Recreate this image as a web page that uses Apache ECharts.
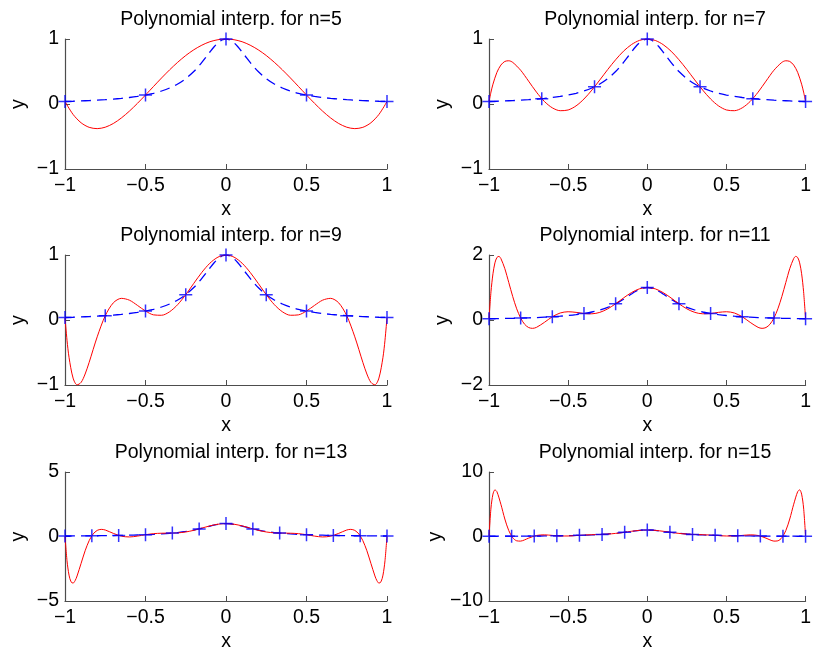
<!DOCTYPE html>
<html>
<head>
<meta charset="utf-8">
<script src="https://cdn.jsdelivr.net/npm/echarts@6/dist/echarts.min.js"></script>
<style>
  html, body { margin: 0; padding: 0; background: #fff; }
  #main { width: 814px; height: 653px; }
</style>
</head>
<body>
<div id="main"></div>
<script>
// 数据：每个子图的标题、y 轴范围、插值节点、插值多项式曲线
var titles = ['Polynomial interp. for n=5', 'Polynomial interp. for n=7', 'Polynomial interp. for n=9',
  'Polynomial interp. for n=11', 'Polynomial interp. for n=13', 'Polynomial interp. for n=15'];
var yLimits = [1, 1, 1, 2, 5, 10];
var xTicks = [-1, -0.5, 0, 0.5, 1];

// 1/(1+25x^2) （蓝色虚线）
var runge = [
  [-1, 0.0385], [-0.95, 0.0424], [-0.9, 0.0471], [-0.85, 0.0525], [-0.8, 0.0588], [-0.75, 0.0664],
  [-0.7, 0.0755], [-0.65, 0.0865], [-0.6, 0.1], [-0.55, 0.1168], [-0.5, 0.1379], [-0.45, 0.1649],
  [-0.4, 0.2], [-0.35, 0.2462], [-0.3, 0.3077], [-0.25, 0.3902], [-0.2, 0.5], [-0.175, 0.5664],
  [-0.15, 0.64], [-0.125, 0.7191], [-0.1, 0.8], [-0.075, 0.8767], [-0.05, 0.9412], [-0.025, 0.9846],
  [0, 1],
  [0.025, 0.9846], [0.05, 0.9412], [0.075, 0.8767], [0.1, 0.8], [0.125, 0.7191], [0.15, 0.64],
  [0.175, 0.5664], [0.2, 0.5], [0.25, 0.3902], [0.3, 0.3077], [0.35, 0.2462], [0.4, 0.2],
  [0.45, 0.1649], [0.5, 0.1379], [0.55, 0.1168], [0.6, 0.1], [0.65, 0.0865], [0.7, 0.0755],
  [0.75, 0.0664], [0.8, 0.0588], [0.85, 0.0525], [0.9, 0.0471], [0.95, 0.0424], [1, 0.0385]
];

// 节点
var nodes5 = [[-1, 0.0385], [-0.5, 0.1379], [0, 1], [0.5, 0.1379], [1, 0.0385]];
var nodes7 = [[-1, 0.0385], [-0.6667, 0.0826], [-0.3333, 0.2647], [0, 1], [0.3333, 0.2647], [0.6667, 0.0826], [1, 0.0385]];
var nodes9 = [[-1, 0.0385], [-0.75, 0.0664], [-0.5, 0.1379], [-0.25, 0.3902], [0, 1],
  [0.25, 0.3902], [0.5, 0.1379], [0.75, 0.0664], [1, 0.0385]];
var nodes11 = [[-1, 0.0385], [-0.8, 0.0588], [-0.6, 0.1], [-0.4, 0.2], [-0.2, 0.5], [0, 1],
  [0.2, 0.5], [0.4, 0.2], [0.6, 0.1], [0.8, 0.0588], [1, 0.0385]];
var nodes13 = [[-1, 0.0385], [-0.8333, 0.0545], [-0.6667, 0.0826], [-0.5, 0.1379], [-0.3333, 0.2647], [-0.1667, 0.5902], [0, 1],
  [0.1667, 0.5902], [0.3333, 0.2647], [0.5, 0.1379], [0.6667, 0.0826], [0.8333, 0.0545], [1, 0.0385]];
var nodes15 = [[-1, 0.0385], [-0.8571, 0.0516], [-0.7143, 0.0727], [-0.5714, 0.1091], [-0.4286, 0.1788], [-0.2857, 0.3289], [-0.1429, 0.6622], [0, 1],
  [0.1429, 0.6622], [0.2857, 0.3289], [0.4286, 0.1788], [0.5714, 0.1091], [0.7143, 0.0727], [0.8571, 0.0516], [1, 0.0385]];

// 插值多项式（红色实线）
var red5 = [
  [-1, 0.038], [-0.95, -0.160], [-0.9, -0.289], [-0.85, -0.359], [-0.8, -0.379], [-0.75, -0.357], [-0.7, -0.300],
  [-0.65, -0.215], [-0.6, -0.110], [-0.55, 0.010], [-0.5, 0.138], [-0.45, 0.270], [-0.4, 0.401], [-0.35, 0.526],
  [-0.3, 0.642], [-0.25, 0.746], [-0.2, 0.834], [-0.15, 0.905], [-0.1, 0.958], [-0.05, 0.989], [0, 1],
  [0.05, 0.989], [0.1, 0.958], [0.15, 0.905], [0.2, 0.834], [0.25, 0.746], [0.3, 0.642], [0.35, 0.526],
  [0.4, 0.401], [0.45, 0.270], [0.5, 0.138], [0.55, 0.010], [0.6, -0.110], [0.65, -0.215], [0.7, -0.300],
  [0.75, -0.357], [0.8, -0.379], [0.85, -0.359], [0.9, -0.289], [0.95, -0.160], [1, 0.038]
];
var red7 = [
  [-1, 0.038], [-0.9875, 0.183], [-0.975, 0.305], [-0.95, 0.487], [-0.925, 0.599], [-0.9, 0.655], [-0.875, 0.665],
  [-0.85, 0.640], [-0.8, 0.519], [-0.75, 0.352], [-0.7, 0.182], [-0.65, 0.039], [-0.6, -0.059], [-0.55, -0.103],
  [-0.5, -0.092], [-0.45, -0.029], [-0.4, 0.077], [-0.35, 0.214], [-0.3, 0.370], [-0.25, 0.530], [-0.2, 0.681],
  [-0.15, 0.813], [-0.1, 0.914], [-0.05, 0.978], [0, 1],
  [0.05, 0.978], [0.1, 0.914], [0.15, 0.813], [0.2, 0.681], [0.25, 0.530], [0.3, 0.370], [0.35, 0.214],
  [0.4, 0.077], [0.45, -0.029], [0.5, -0.092], [0.55, -0.103], [0.6, -0.059], [0.65, 0.039], [0.7, 0.182],
  [0.75, 0.352], [0.8, 0.519], [0.85, 0.640], [0.875, 0.665], [0.9, 0.655], [0.925, 0.599], [0.95, 0.487],
  [0.975, 0.305], [0.9875, 0.183], [1, 0.038]
];
var red9 = [
  [-1, 0.038], [-0.9875, -0.311], [-0.975, -0.574], [-0.95, -0.892], [-0.925, -0.998], [-0.9, -0.960], [-0.875, -0.831],
  [-0.85, -0.652], [-0.8, -0.259], [-0.75, 0.066], [-0.7, 0.264], [-0.65, 0.333], [-0.6, 0.305], [-0.55, 0.225],
  [-0.5, 0.138], [-0.45, 0.079], [-0.4, 0.073], [-0.35, 0.127], [-0.3, 0.237], [-0.25, 0.390], [-0.2, 0.564],
  [-0.15, 0.733], [-0.1, 0.874], [-0.05, 0.967], [0, 1],
  [0.05, 0.967], [0.1, 0.874], [0.15, 0.733], [0.2, 0.564], [0.25, 0.390], [0.3, 0.237], [0.35, 0.127],
  [0.4, 0.073], [0.45, 0.079], [0.5, 0.138], [0.55, 0.225], [0.6, 0.305], [0.65, 0.333], [0.7, 0.264],
  [0.75, 0.066], [0.8, -0.259], [0.85, -0.652], [0.875, -0.831], [0.9, -0.960], [0.925, -0.998], [0.95, -0.892],
  [0.975, -0.574], [0.9875, -0.311], [1, 0.038]
];
var red11 = [
  [-1, 0.038], [-0.9875, 0.868], [-0.975, 1.423], [-0.9625, 1.759], [-0.95, 1.924], [-0.9375, 1.957], [-0.925, 1.892],
  [-0.9, 1.579], [-0.875, 1.152], [-0.85, 0.720], [-0.825, 0.345], [-0.8, 0.059], [-0.775, -0.131], [-0.75, -0.231],
  [-0.725, -0.257], [-0.7, -0.226], [-0.65, -0.073], [-0.6, 0.1], [-0.55, 0.216], [-0.5, 0.254], [-0.45, 0.235],
  [-0.4, 0.2], [-0.35, 0.191], [-0.3, 0.235], [-0.25, 0.343], [-0.2, 0.5], [-0.15, 0.679], [-0.1, 0.843],
  [-0.05, 0.959], [0, 1],
  [0.05, 0.959], [0.1, 0.843], [0.15, 0.679], [0.2, 0.5], [0.25, 0.343], [0.3, 0.235], [0.35, 0.191],
  [0.4, 0.2], [0.45, 0.235], [0.5, 0.254], [0.55, 0.216], [0.6, 0.1], [0.65, -0.073], [0.7, -0.226],
  [0.725, -0.257], [0.75, -0.231], [0.775, -0.131], [0.8, 0.059], [0.825, 0.345], [0.85, 0.720], [0.875, 1.152],
  [0.9, 1.579], [0.925, 1.892], [0.9375, 1.957], [0.95, 1.924], [0.9625, 1.759], [0.975, 1.423], [0.9875, 0.868],
  [1, 0.038]
];
var red13 = [
  [-1, 0.038], [-0.9875, -1.881], [-0.975, -2.994], [-0.9625, -3.515], [-0.95, -3.614], [-0.9375, -3.428],
  [-0.925, -3.060], [-0.9, -2.083], [-0.875, -1.104], [-0.85, -0.322], [-0.825, 0.199], [-0.8, 0.473],
  [-0.775, 0.553], [-0.75, 0.503], [-0.7, 0.243], [-0.65, 0.026], [-0.6, -0.035], [-0.55, 0.031], [-0.5, 0.138],
  [-0.45, 0.220], [-0.4, 0.254], [-0.35, 0.261], [-0.3, 0.282], [-0.25, 0.351], [-0.2, 0.479], [-0.15, 0.650],
  [-0.1, 0.823], [-0.05, 0.952], [0, 1],
  [0.05, 0.952], [0.1, 0.823], [0.15, 0.650], [0.2, 0.479], [0.25, 0.351], [0.3, 0.282], [0.35, 0.261],
  [0.4, 0.254], [0.45, 0.220], [0.5, 0.138], [0.55, 0.031], [0.6, -0.035], [0.65, 0.026], [0.7, 0.243],
  [0.75, 0.503], [0.775, 0.553], [0.8, 0.473], [0.825, 0.199], [0.85, -0.322], [0.875, -1.104], [0.9, -2.083],
  [0.925, -3.060], [0.9375, -3.428], [0.95, -3.614], [0.9625, -3.515], [0.975, -2.994], [0.9875, -1.881],
  [1, 0.038]
];
var red15 = [
  [-1, 0.038], [-0.9875, 4.416], [-0.975, 6.570], [-0.9625, 7.230], [-0.95, 6.943], [-0.925, 5.004], [-0.9, 2.713],
  [-0.875, 0.908], [-0.85, -0.192], [-0.825, -0.669], [-0.8, -0.713], [-0.775, -0.523], [-0.75, -0.255],
  [-0.7, 0.159], [-0.65, 0.256], [-0.6, 0.168], [-0.55, 0.080], [-0.5, 0.078], [-0.45, 0.144], [-0.4, 0.222],
  [-0.35, 0.277], [-0.3, 0.316], [-0.25, 0.374], [-0.2, 0.480], [-0.15, 0.637], [-0.1, 0.811], [-0.05, 0.948],
  [0, 1],
  [0.05, 0.948], [0.1, 0.811], [0.15, 0.637], [0.2, 0.480], [0.25, 0.374], [0.3, 0.316], [0.35, 0.277],
  [0.4, 0.222], [0.45, 0.144], [0.5, 0.078], [0.55, 0.080], [0.6, 0.168], [0.65, 0.256], [0.7, 0.159],
  [0.75, -0.255], [0.775, -0.523], [0.8, -0.713], [0.825, -0.669], [0.85, -0.192], [0.875, 0.908], [0.9, 2.713],
  [0.925, 5.004], [0.95, 6.943], [0.9625, 7.230], [0.975, 6.570], [0.9875, 4.416], [1, 0.038]
];

var nodeSets = [nodes5, nodes7, nodes9, nodes11, nodes13, nodes15];
var redSets = [red5, red7, red9, red11, red13, red15];

(function () {
  var myChart = echarts.init(document.getElementById('main'));
  var font = 'Liberation Sans, Arial, Helvetica, sans-serif';
  var plus = 'path://M5.75,0H7.25V5.75H13V7.25H7.25V13H5.75V7.25H0V5.75H5.75Z';
  var lefts = [65, 489];
  var tops = [39, 255, 472];
  var minus = function (v) { return String(v).replace('-', '\u2212'); };

  var grid = [], xAxis = [], yAxis = [], title = [], series = [];
  for (var i = 0; i < 6; i++) {
    var col = i % 2, row = Math.floor(i / 2);
    grid.push({ left: lefts[col], top: tops[row], width: 322, height: 130 });
    title.push({
      text: titles[i], left: lefts[col] + 161, top: tops[row] - 34, textAlign: 'center',
      textStyle: { fontFamily: font, fontSize: 19.5, fontWeight: 'normal', color: '#000' }
    });
    xAxis.push({
      gridIndex: i, type: 'value', min: -1, max: 1, interval: 0.5,
      name: 'x', nameLocation: 'middle', nameGap: 31,
      nameTextStyle: { fontFamily: font, fontSize: 19.5, color: '#000' },
      axisLine: { onZero: false, lineStyle: { color: '#4d4d4d', width: 1.2 } },
      axisTick: { inside: true, length: 5, lineStyle: { color: '#4d4d4d' } },
      axisLabel: { fontFamily: font, fontSize: 19.5, color: '#000', margin: 7, formatter: minus },
      splitLine: { show: false }
    });
    yAxis.push({
      gridIndex: i, type: 'value', min: -yLimits[i], max: yLimits[i], interval: yLimits[i],
      name: 'y', nameLocation: 'middle', nameGap: 36,
      nameTextStyle: { fontFamily: font, fontSize: 19.5, color: '#000' },
      axisLine: { onZero: false, lineStyle: { color: '#4d4d4d', width: 1.2 } },
      axisTick: { inside: true, length: 5, lineStyle: { color: '#4d4d4d' } },
      axisLabel: { fontFamily: font, fontSize: 19.5, color: '#000', margin: 6, formatter: minus },
      splitLine: { show: false }
    });
    series.push({
      type: 'line', xAxisIndex: i, yAxisIndex: i, data: runge, smooth: 0.3, symbol: 'none',
      lineStyle: { color: '#0000ff', width: 1.3, type: [10, 6] }, z: 2
    });
    series.push({
      type: 'line', xAxisIndex: i, yAxisIndex: i, data: redSets[i], smooth: 0.3, symbol: 'none',
      lineStyle: { color: '#ff0000', width: 1 }, z: 3
    });
    series.push({
      type: 'scatter', xAxisIndex: i, yAxisIndex: i, data: nodeSets[i], symbol: plus, symbolSize: 13,
      itemStyle: { color: '#0000ff' }, clip: false, z: 4
    });
  }

  var option = {
    animation: false,
    backgroundColor: '#fff',
    title: title,
    grid: grid,
    xAxis: xAxis,
    yAxis: yAxis,
    series: series
  };
  myChart.setOption(option);
  window.addEventListener('resize', myChart.resize);
})();
</script>
</body>
</html>
